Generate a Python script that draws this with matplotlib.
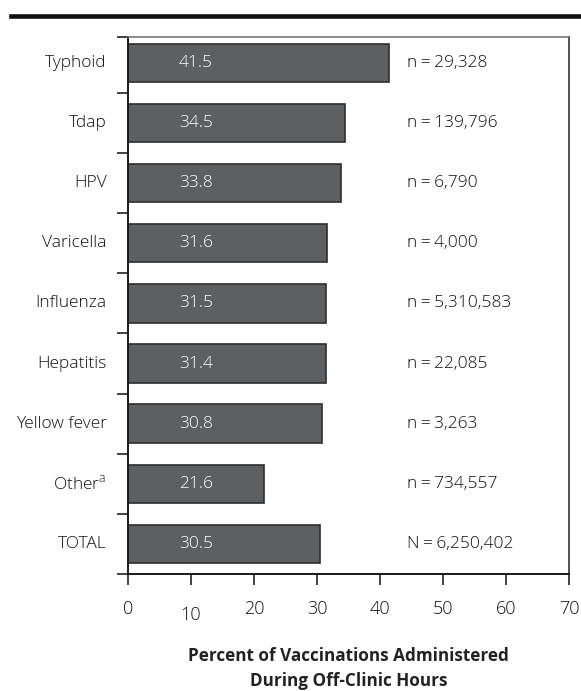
import matplotlib.pyplot as plt
import matplotlib.transforms as mtransforms
from matplotlib.lines import Line2D

plt.rcParams['font.family'] = ['Open Sans', 'DejaVu Sans']
plt.rcParams['mathtext.fontset'] = 'custom'
plt.rcParams['mathtext.rm'] = 'Open Sans:light'

# data
categories = ['Typhoid', 'Tdap', 'HPV', 'Varicella', 'Influenza', 'Hepatitis',
              'Yellow fever', 'Other$^{\\mathrm{a}}$', 'TOTAL']
percent = [41.5, 34.5, 33.8, 31.6, 31.5, 31.4, 30.8, 21.6, 30.5]
counts = ['n\u2009=\u200929,328', 'n\u2009=\u2009139,796', 'n\u2009=\u20096,790',
          'n\u2009=\u20094,000', 'n\u2009=\u20095,310,583', 'n\u2009=\u200922,085',
          'n\u2009=\u20093,263', 'n\u2009=\u2009734,557', 'N\u2009=\u20096,250,402']

fig = plt.figure(figsize=(5.81, 6.91), dpi=100)
ax = fig.add_axes([0.2203, 0.1693, 0.7590, 0.7772])

y = list(range(len(categories)))
ax.barh(y, percent, height=0.64, color='#5e5f61', edgecolor='#2e2e2e', linewidth=1.2)

fs = 12.5
txt = '#111111'
for yi, v, c in zip(y, percent, counts):
    ax.text(10.8, yi, f'{v}', color='white', fontsize=fs, fontweight='light',
            ha='center', va='center')
    ax.text(44.3, yi, c, color=txt, fontsize=fs, fontweight='light',
            ha='left', va='center')

ax.set_xlim(0, 70)
ax.set_ylim(8.5, -0.43)
ax.set_xticks(range(0, 71, 10))
ax.set_yticks([-0.43] + [i + 0.5 for i in range(9)])
ax.set_yticklabels([])
for yi, name in zip(y, categories):
    ax.text(-3.4, yi, name, fontsize=fs, fontweight='light', ha='right', va='center',
            color=txt)

ax.tick_params(axis='y', direction='out', length=8, width=1.2, color='#222222')
ax.tick_params(axis='x', direction='out', length=8, width=1.2, color='#222222',
               labelsize=13, labelcolor=txt, pad=11)
for lab in ax.get_xticklabels():
    lab.set_fontweight('light')

# the "10" label sits a little lower in the original
lab = ax.get_xticklabels()[1]
lab.set_transform(lab.get_transform() + mtransforms.ScaledTranslation(0, -6 / 100, fig.dpi_scale_trans))

for s in ['left', 'bottom']:
    ax.spines[s].set_linewidth(1.4)
    ax.spines[s].set_color('#1a1a1a')
ax.spines['top'].set_color('#777777')
ax.spines['top'].set_linewidth(1.2)
ax.spines['right'].set_color('#333333')
ax.spines['right'].set_linewidth(1.2)

ax.set_xlabel('Percent of Vaccinations Administered\nDuring Off-Clinic Hours',
              fontsize=12.3, fontweight='bold', color='#222222', labelpad=16, linespacing=1.5)

# thick rule below the (cropped) title
fig.add_artist(Line2D([11 / 581, 1], [1 - 16 / 691, 1 - 16 / 691], color='#111111',
                      linewidth=3.3, transform=fig.transFigure))

fig.savefig('out.png', dpi=100)
